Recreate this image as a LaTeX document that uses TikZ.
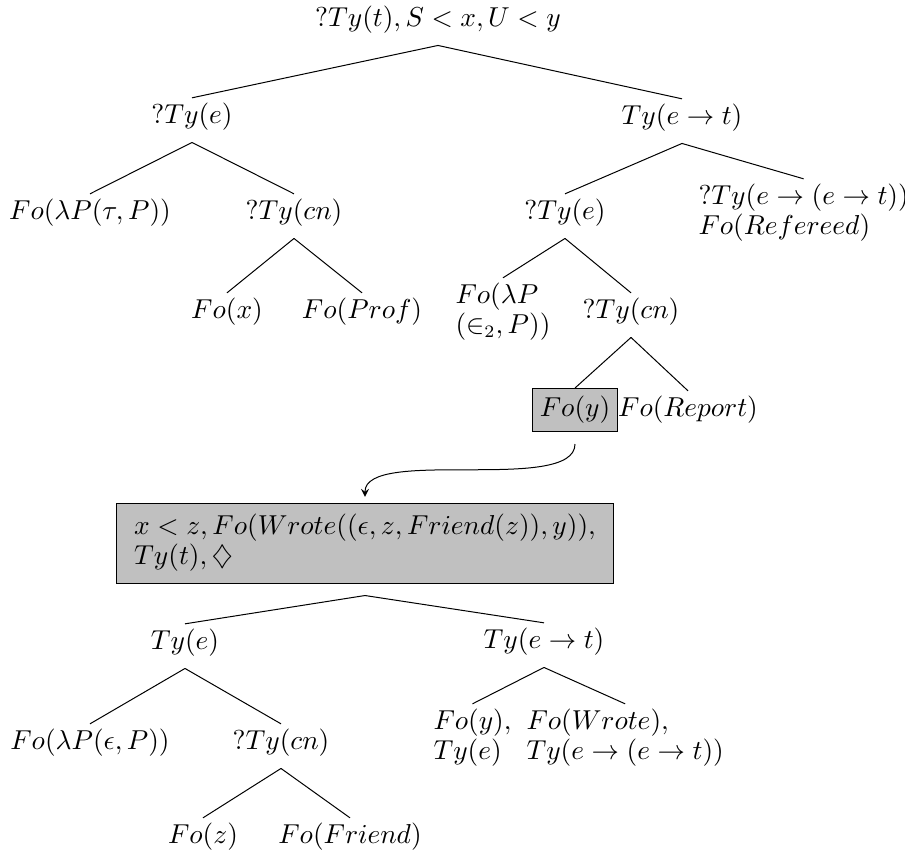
\documentclass[tikz,border=0pt]{standalone}
\usepackage{amsmath}
\usepackage{amssymb}

\definecolor{boxgray}{HTML}{C0C0C0}
\tikzset{
  lbl/.style={inner sep=2pt, font=\fontsize{10.7}{12}\selectfont},
  twoline/.style={lbl, align=left, anchor=west},
  greybox/.style={lbl, draw, fill=boxgray},
}

\begin{document}
\begin{tikzpicture}[x=0.4pt, y=-0.4pt]
   \useasboundingbox (0,0) rectangle (905,856);

   \foreach \n/\x/\y/\t in {root/438/20/{$?Ty(t), S<x, U<y$},
       tyeA/192/117/{$?Ty(e)$}, tyetA/682/118/{$Ty(e\to t)$},
       lamA/90/213/{$Fo(\lambda P(\tau, P))$}, cnA/294/213/{$?Ty(cn)$},
       fx/227/312/{$Fo(x)$}, prof/362/312/{$Fo(Prof)$},
       tyeB/565/213/{$?Ty(e)$}, cnB/631/312/{$?Ty(cn)$},
       report/688/410/{$Fo(Report)$},
       tyeC/185/643/{$Ty(e)$}, tyetC/544/642/{$Ty(e\to t)$},
       lamC/90/743/{$Fo(\lambda P(\epsilon, P))$}, cnC/281/743/{$?Ty(cn)$},
       fz/203/837/{$Fo(z)$}, friend/350/837/{$Fo(Friend)$}}
     \node [lbl] (\n) at (\x,\y) {\t};

   \node [twoline] (refd) at (693,213) {$?Ty(e\to(e\to t))$\\$Fo(Refereed)$};
   \node [twoline] (lamB) at (450,312) {$Fo(\lambda P$\\$(\in_2, P))$};
   \node [greybox, minimum width=34pt, minimum height=17.2pt] (foy) at (575,410) {$Fo(y)$};
   \node [greybox, align=left, minimum width=198.4pt, minimum height=32pt,
          outer sep=2.5pt] (wrote) at (365,543)
         {$x<z, Fo(Wrote((\epsilon, z, Friend(z)), y)),$\\$Ty(t), \diamondsuit$};
   \node [twoline] (foyC) at (428,738) {$Fo(y),$\\$Ty(e)$};
   \node [twoline] (wroteC) at (521,738) {$Fo(Wrote),$\\$Ty(e\to(e\to t))$};

   \foreach \p/\c in {root/tyeA, root/tyetA, tyeA/lamA, tyeA/cnA, cnA/fx, cnA/prof,
       tyetA/tyeB, tyetA/refd, tyeB/lamB, tyeB/cnB, cnB/foy, cnB/report,
       wrote/tyeC, wrote/tyetC, tyeC/lamC, tyeC/cnC, cnC/fz, cnC/friend,
       tyetC/foyC, tyetC/wroteC}
     \draw ([yshift=-2.5pt]\p.south) -- (\c.north);

   \draw [-stealth] ([yshift=-4.8pt]foy.south) to[out=-90, in=90, distance=20pt] (wrote.north);

\end{tikzpicture}
\end{document}
